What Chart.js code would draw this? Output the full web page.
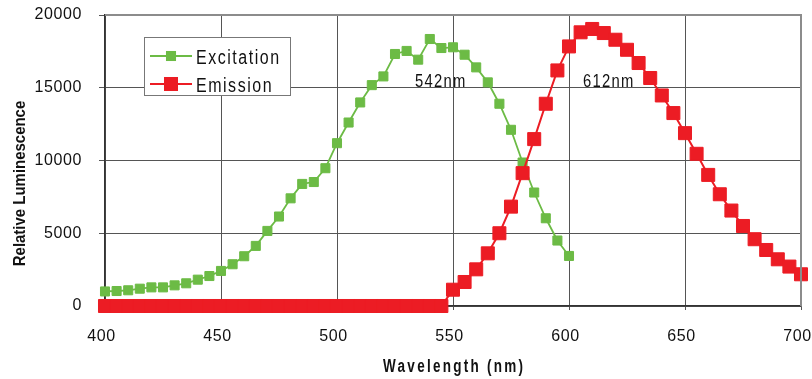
<!DOCTYPE html>
<html>
<head>
<meta charset="utf-8">
<script src="https://cdn.jsdelivr.net/npm/chart.js@4.4.1/dist/chart.umd.min.js"></script>
<style>
  html, body { margin: 0; padding: 0; background: #fff; }
</style>
</head>
<body>
<canvas id="mainChart" width="812" height="379"></canvas>
<script>
const main = document.getElementById("mainChart");

// wavelengths (nm)
let excitationWl = [400, 405, 410, 415, 420, 425, 430, 435, 440, 445, 450, 455, 460, 465, 470, 475, 480, 485, 490, 495,
    500, 505, 510, 515, 520, 525, 530, 535, 540, 545, 550, 555, 560, 565, 570, 575, 580, 585, 590, 595, 600];
let excitationValues = [1000, 1030, 1080, 1190, 1280, 1280, 1420, 1560, 1810, 2060, 2410, 2870, 3420, 4130, 5160, 6150, 7400, 8390, 8520, 9470,
    11190, 12610, 13990, 15180, 15780, 17320, 17530, 16930, 18350, 17730, 17780, 17270, 16400, 15370, 13900, 12110, 9860, 7800, 6030, 4500, 3440];

let emissionWl = [400, 405, 410, 415, 420, 425, 430, 435, 440, 445, 450, 455, 460, 465, 470, 475, 480, 485, 490, 495,
    500, 505, 510, 515, 520, 525, 530, 535, 540, 545, 550, 555, 560, 565, 570, 575, 580, 585, 590, 595,
    600, 605, 610, 615, 620, 625, 630, 635, 640, 645, 650, 655, 660, 665, 670, 675, 680, 685, 690, 695, 700];
let emissionValues = [0, 0, 0, 0, 0, 0, 0, 0, 0, 0, 0, 0, 0, 0, 0, 0, 0, 0, 0, 0,
    0, 0, 0, 0, 0, 0, 0, 0, 0, 0, 1120, 1650, 2520, 3620, 5000, 6830, 9130, 11470, 13900, 16190,
    17840, 18810, 19040, 18760, 18300, 17610, 16700, 15670, 14470, 13260, 11880, 10460, 9010, 7680, 6560, 5500, 4590, 3850, 3210, 2710, 2180];

let xTicks = [400, 450, 500, 550, 600, 650, 700];
let yTicks = [0, 5000, 10000, 15000, 20000];

let peakLabels = ["542nm", "612nm"];

const green = "#6cbb45";
const red = "#ec1c24";
const font = "'Liberation Sans', Arial, sans-serif";

function pts(xs, ys) {
    return xs.map((x, i) => ({ x: x, y: ys[i] }));
}

// condensed text with letter spacing (the original uses a narrow face)
function drawText(ctx, text, x, y, f, sx, ls, align, rot) {
    ctx.save();
    ctx.translate(x, y);
    if (rot) ctx.rotate(rot);
    ctx.scale(sx, 1);
    ctx.font = f;
    ctx.letterSpacing = ls + "px";
    ctx.textAlign = "left";
    ctx.textBaseline = "alphabetic";
    const w = ctx.measureText(text).width - ls;
    ctx.fillText(text, align === "center" ? -w / 2 : 0, 0);
    ctx.restore();
}

// extra drawing: frame, legend box, peak labels, axis titles
const decor = {
    id: "decor",
    beforeDraw(chart) {
        chart.ctx.letterSpacing = "0.6px";
    },
    afterDraw(chart) {
        const ctx = chart.ctx;
        const a = chart.chartArea;
        ctx.save();
        ctx.letterSpacing = "0px";

        // top / right frame
        ctx.strokeStyle = "#8c8c8c";
        ctx.lineWidth = 2;
        ctx.beginPath();
        ctx.moveTo(a.left, a.top);
        ctx.lineTo(a.right, a.top);
        ctx.lineTo(a.right, a.bottom);
        ctx.stroke();

        ctx.fillStyle = "#111";
        // peak labels
        drawText(ctx, peakLabels[0], 415, 87, "18.5px " + font, 0.8, 1.6, "left");
        drawText(ctx, peakLabels[1], 583, 87, "18.5px " + font, 0.8, 1.6, "left");

        // legend box
        ctx.fillStyle = "#fff";
        ctx.fillRect(144, 37, 146, 58);
        ctx.strokeStyle = "#777";
        ctx.lineWidth = 1;
        ctx.strokeRect(144.5, 37.5, 146, 58);
        chart.data.datasets.forEach((ds, i) => {
            const y = 56 + i * 28;
            ctx.strokeStyle = ds.borderColor;
            ctx.lineWidth = ds.borderWidth;
            ctx.beginPath();
            ctx.moveTo(150, y);
            ctx.lineTo(192, y);
            ctx.stroke();
            const s = ds.pointRadius * Math.SQRT1_2 + 0.5;
            ctx.fillStyle = ds.backgroundColor;
            ctx.fillRect(171 - s, y - s, 2 * s, 2 * s);
            ctx.fillStyle = "#111";
            drawText(ctx, ds.label, 196, y + 7.5, "20px " + font, 0.8, 1.9, "left");
        });

        // axis titles
        ctx.fillStyle = "#111";
        drawText(ctx, "Wavelength (nm)", (a.left + a.right) / 2, 372, "bold 18px " + font, 0.75, 3, "center");
        drawText(ctx, "Relative Luminescence", 25, 183.5, "bold 17px " + font, 0.88, 0, "center", -Math.PI / 2);
        ctx.restore();
    }
};

new Chart(main, {
    type: "line",
    data: {
        datasets: [{
            label: "Excitation",
            data: pts(excitationWl, excitationValues),
            borderColor: green,
            backgroundColor: green,
            borderWidth: 1.8,
            pointStyle: "rect",
            pointRadius: 6.4,
            pointBorderWidth: 1,
            order: 1,
            clip: false
        }, {
            label: "Emission",
            data: pts(emissionWl, emissionValues),
            borderColor: red,
            backgroundColor: red,
            borderWidth: 2,
            pointStyle: "rect",
            pointRadius: 9.2,
            pointBorderWidth: 1,
            order: 0,
            clip: false
        }]
    },
    options: {
        responsive: false,
        animation: false,
        layout: { padding: { top: 15, right: 11, left: 0, bottom: 0 } },
        plugins: {
            legend: { display: false },
            tooltip: { enabled: false }
        },
        scales: {
            x: {
                type: "linear",
                min: 400,
                max: 700,
                afterBuildTicks(scale) { scale.ticks = xTicks.map(v => ({ value: v })); },
                ticks: { font: { family: font, size: 16 }, color: "#111", padding: 17, maxRotation: 0, labelOffset: -3.5 },
                grid: { color: "#555", lineWidth: 1, tickLength: 4 },
                border: { color: "#333", width: 1.5 },
                afterFit(scale) {
                    scale.height = 73;
                    scale.paddingLeft = 0;
                    scale.paddingRight = 0;
                }
            },
            y: {
                min: 0,
                max: 20000,
                afterBuildTicks(scale) { scale.ticks = yTicks.map(v => ({ value: v })); },
                ticks: {
                    font: { family: font, size: 16 }, color: "#111", padding: 17,
                    callback: v => String(v)
                },
                grid: { color: "#555", lineWidth: 1, tickLength: 6 },
                border: { color: "#333", width: 1.5 },
                afterFit(scale) {
                    scale.width = 105;
                    scale.paddingTop = 0;
                    scale.paddingBottom = 0;
                }
            }
        }
    },
    plugins: [decor]
});
</script>
</body>
</html>
